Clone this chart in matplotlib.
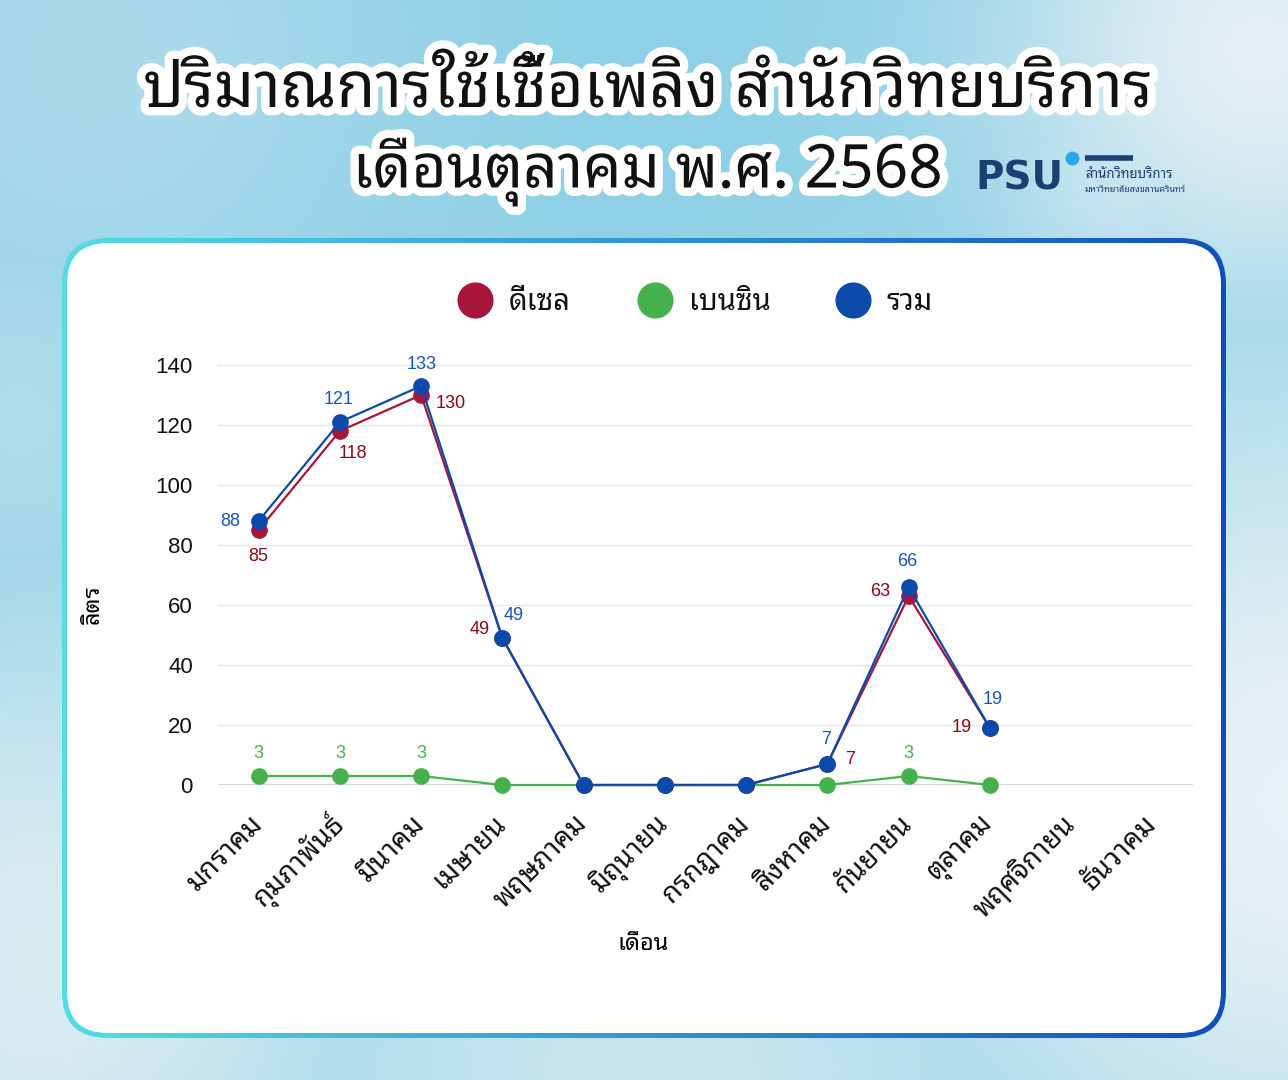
import numpy as np
import matplotlib
matplotlib.use("Agg")
import matplotlib.pyplot as plt
from matplotlib import font_manager
from matplotlib.ft2font import FT2Font
from matplotlib.patches import FancyBboxPatch
from matplotlib.transforms import ScaledTranslation
import matplotlib.patheffects as pe

# ---- data ----
months = ["มกราคม", "กุมภาพันธ์", "มีนาคม", "เมษายน", "พฤษภาคม", "มิถุนายน",
          "กรกฎาคม", "สิงหาคม", "กันยายน", "ตุลาคม", "พฤศจิกายน", "ธันวาคม"]
diesel = [85, 118, 130, 49, 0, 0, 0, 7, 63, 19]
benzin = [3, 3, 3, 0, 0, 0, 0, 0, 3, 0]
total = [88, 121, 133, 49, 0, 0, 0, 7, 66, 19]
series_names = ["ดีเซล", "เบนซิน", "รวม"]
yticks = [0, 20, 40, 60, 80, 100, 120, 140]

# label offsets (pixels) for value labels
diesel_off = [(0, -26), (13, -22), (30, -8), (-23, 8), (0, 0), (0, 0), (0, 0), (23, 4), (-28, 4), (-28, 1)]
total_off = [(-28, 0), (-1, 23), (0, 22), (11, 23), (0, 0), (0, 0), (0, 0), (-1, 24), (-1, 25), (3, 29)]
benzin_off = [(0, 23)] * 10

c_diesel = "#a6163a"
c_benzin = "#44b14c"
c_total = "#0b4aaa"
lab_diesel = "#8c0a14"
lab_total = "#1a56b8"
lab_benzin = "#4cb152"
num_font = "Liberation Sans"


def find_thai_font():
    found = []
    for f in font_manager.fontManager.ttflist:
        try:
            if 0x0E01 in FT2Font(f.fname).get_charmap():
                found.append(f.name)
        except Exception:
            pass
    for pref in ["Noto Sans Thai Looped", "Loma", "Garuda", "Tlwg Typo", "Norasi",
                 "Noto Serif Thai", "Noto Sans Thai"]:
        if pref in found:
            return pref
    return found[0] if found else "DejaVu Sans"


thai = find_thai_font()
plt.rcParams["font.family"] = [thai, "DejaVu Sans"]

W, H = 1288, 1080
fig = plt.figure(figsize=(W / 100, H / 100), dpi=100)

# ---- background ----
bg = fig.add_axes([0, 0, 1, 1])
bg.set_xlim(0, W)
bg.set_ylim(H, 0)
bg.axis("off")
yy, xx = np.mgrid[0:H, 0:W]
sky = np.array([142, 208, 230]) / 255.0
img = np.ones((H, W, 3)) * sky
blobs = [(1260, 50, 190, 0.9), (1130, 170, 110, 0.6), (1300, 800, 320, 0.95), (40, 960, 260, 0.8),
         (650, 1080, 330, 0.6), (90, 60, 220, 0.3), (20, 420, 150, 0.35)]
white_amt = np.zeros((H, W))
for bx, by, r, a in blobs:
    white_amt = np.maximum(white_amt, a * np.exp(-((xx - bx) ** 2 + (yy - by) ** 2) / (2 * r ** 2)))
white = np.array([238, 243, 246]) / 255.0
img = img * (1 - white_amt[..., None]) + white * white_amt[..., None]
bg.imshow(img, extent=(0, W, H, 0), aspect="auto", zorder=0)

# panel with gradient border
x0, y0, x1, y1 = 62, 238, 1226, 1038
outer = FancyBboxPatch((x0, y0), x1 - x0, y1 - y0, boxstyle="round,pad=0,rounding_size=46",
                       facecolor="none", edgecolor="none", transform=bg.transData)
bg.add_patch(outer)
grad = np.linspace(0, 1, 256)
cl = np.array([84, 220, 230]) / 255.0
cr = np.array([16, 80, 186]) / 255.0
gimg = (cl[None, :] * (1 - grad[:, None]) + cr[None, :] * grad[:, None])[None, :, :]
gi = bg.imshow(gimg, extent=(x0, x1, y1, y0), aspect="auto", zorder=1)
gi.set_clip_path(outer)
inner = FancyBboxPatch((x0 + 5, y0 + 5), x1 - x0 - 10, y1 - y0 - 10,
                       boxstyle="round,pad=0,rounding_size=41",
                       facecolor="white", edgecolor="none", zorder=2)
bg.add_patch(inner)

# title
stroke = [pe.withStroke(linewidth=12, foreground="white")]
bg.text(648, 90, "ปริมาณการใช้เชื้อเพลิง สำนักวิทยบริการ", ha="center", va="center",
        fontsize=45.5, fontweight="bold", color="#111111", path_effects=stroke, zorder=3)
bg.text(648, 172, "เดือนตุลาคม พ.ศ. 2568", ha="center", va="center",
        fontsize=43.5, fontweight="bold", color="#111111", path_effects=stroke, zorder=3)

# logo
navy = "#1b3f73"
bg.text(975, 178, "PSU", ha="left", va="center", fontsize=28, fontweight="bold",
        color=navy, family="DejaVu Sans", zorder=3)
bg.plot([1072], [158], "o", color="#2aa7e8", markersize=9, zorder=3)
bg.plot([1085, 1133], [158, 158], color=navy, linewidth=4, solid_capstyle="butt", zorder=3)
bg.text(1085, 175, "สำนักวิทยบริการ", ha="left", va="center", fontsize=9.5,
        fontweight="bold", color=navy, zorder=3)
bg.text(1085, 189, "มหาวิทยาลัยสงขลานครินทร์", ha="left", va="center", fontsize=6.5,
        fontweight="bold", color=navy, zorder=3)

# legend
leg_x = [475, 655, 853]
for xc, name, col in zip(leg_x, series_names, [c_diesel, c_benzin, c_total]):
    bg.plot([xc], [300], "o", color=col, markersize=25, zorder=3)
    bg.text(xc + 34, 302, name, ha="left", va="center", fontsize=21, color="#111111", zorder=3)

# ---- chart ----
ax = fig.add_axes([218 / W, 1 - 785 / H, (1193 - 218) / W, (785 - 365) / H])
ax.set_facecolor("none")
ax.set_zorder(5)
x = np.arange(len(diesel))
ax.plot(x, benzin, color=c_benzin, lw=1.6, marker="o", ms=11, zorder=3, clip_on=False)
ax.plot(x, diesel, color=c_diesel, lw=1.6, marker="o", ms=11, zorder=4, clip_on=False)
ax.plot(x, total, color=c_total, lw=1.6, marker="o", ms=11, zorder=5, clip_on=False)

for vals, offs, col in [(diesel, diesel_off, lab_diesel), (total, total_off, lab_total),
                        (benzin, benzin_off, lab_benzin)]:
    for i, (v, o) in enumerate(zip(vals, offs)):
        if v > 0:
            ax.annotate(str(v), (i, v), xytext=o, textcoords="offset pixels",
                        ha="center", va="center", fontsize=13, color=col,
                        family=num_font, zorder=6)

ax.set_xlim(-0.5, 11.5)
ax.set_ylim(0, 140)
ax.set_yticks(yticks)
ax.set_yticklabels([str(t) for t in yticks], family=num_font, fontsize=16)
ax.set_xticks(np.arange(len(months)))
ax.set_xticklabels(months, rotation=45, ha="right", va="center", rotation_mode="anchor", fontsize=20)
shift = ScaledTranslation(15 / 100, 0, fig.dpi_scale_trans)
for lbl in ax.get_xticklabels():
    lbl.set_transform(lbl.get_transform() + shift)
ax.tick_params(axis="both", length=0, colors="#111111")
ax.tick_params(axis="x", pad=25)
ax.tick_params(axis="y", pad=18)
ax.grid(axis="y", color="#e6e6e6", lw=1)
ax.axhline(0, color="#c8c8c8", lw=1.2, zorder=1)
for s in ax.spines.values():
    s.set_visible(False)
ax.set_ylabel("ลิตร", fontsize=17)
ax.yaxis.set_label_coords(-0.116, 0.43)
ax.set_xlabel("เดือน", fontsize=17)
ax.xaxis.set_label_coords(0.436, -0.35)

fig.savefig("out.png", dpi=100)
